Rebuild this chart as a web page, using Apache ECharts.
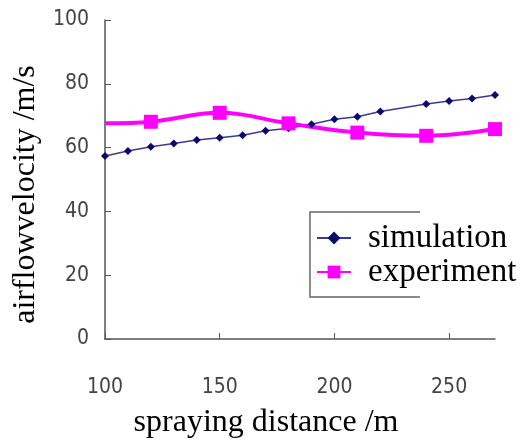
<!DOCTYPE html>
<html><head><meta charset="utf-8">
<script src="https://cdn.jsdelivr.net/npm/echarts@6/dist/echarts.min.js"></script>
<style>html,body{margin:0;padding:0;background:#fff}#c{width:529px;height:442px}</style>
</head><body><div id="c"></div>
<script>
var simX = [100,110,120,130,140,150,160,170,180,190,200,210,220,240,250,260,270];
var simY = [57.4,58.9,60.3,61.3,62.4,63.1,63.9,65.3,66.1,67.3,68.9,69.7,71.3,73.7,74.6,75.4,76.5];
var expX = [100,120,150,180,210,240,270];
var expY = [67.6,68.1,70.9,67.6,64.7,63.7,65.8];
var xTicks = {min:100,max:270,interval:50};
var yTicks = {min:0,max:100,interval:20};

var labelFont = "'Liberation Sans Narrow','DejaVu Sans Condensed',sans-serif";
var titleFont = "'Liberation Serif','DejaVu Serif',serif";

var chart = echarts.init(document.getElementById('c'));
chart.setOption({
  animation:false,
  grid:{left:105,right:34,top:20,bottom:103,containLabel:false,outerBoundsMode:'none'},
  xAxis:{type:'value',min:xTicks.min,max:xTicks.max,interval:xTicks.interval,
    name:'spraying distance /m',nameLocation:'middle',nameGap:68,
    nameTextStyle:{fontFamily:titleFont,fontSize:32,color:'#000',padding:[0,68,0,0]},
    axisLine:{lineStyle:{color:'#555',width:1.5}},
    axisTick:{inside:true,length:6,lineStyle:{color:'#555'}},
    axisLabel:{margin:38,fontFamily:labelFont,fontSize:21,color:'#444',showMaxLabel:false},
    splitLine:{show:false}},
  yAxis:{type:'value',min:yTicks.min,max:yTicks.max,interval:yTicks.interval,
    name:'airflowvelocity /m/s',nameLocation:'middle',nameGap:56,
    nameTextStyle:{fontFamily:titleFont,fontSize:32,color:'#000',padding:[0,30,0,0]},
    axisLine:{show:true,lineStyle:{color:'#555',width:1.5}},
    axisTick:{show:true,inside:true,length:6,lineStyle:{color:'#555'}},
    axisLabel:{margin:16,fontFamily:labelFont,fontSize:21,color:'#444'},
    splitLine:{show:false}},
  legend:{orient:'vertical',left:316,top:221,itemGap:0,itemWidth:34,itemHeight:16,padding:0,
    textStyle:{fontFamily:titleFont,fontSize:33,lineHeight:34,color:'#000',padding:[0,0,0,12]},
    data:[{name:'simulation'},{name:'experiment'}]},
  graphic:[{type:'polyline',shape:{points:[[420,212],[310,212],[310,297],[420,297]]},
    style:{stroke:'#666',fill:null,lineWidth:1.5},z:0}],
  series:[
    {name:'simulation',type:'line',data:simX.map(function(x,i){return [x,simY[i]];}),
     symbol:'diamond',symbolSize:8,itemStyle:{color:'#0a0a6e'},
     lineStyle:{color:'#3a3a9a',width:1.5}},
    {name:'experiment',type:'line',smooth:0.4,
     data:expX.map(function(x,i){return i===0?{value:[x,expY[i]],symbol:'none'}:[x,expY[i]];}),
     symbol:'rect',symbolSize:14,itemStyle:{color:'#ff00ff'},
     lineStyle:{color:'#ff00ff',width:4}}
  ]
});
</script></body></html>
